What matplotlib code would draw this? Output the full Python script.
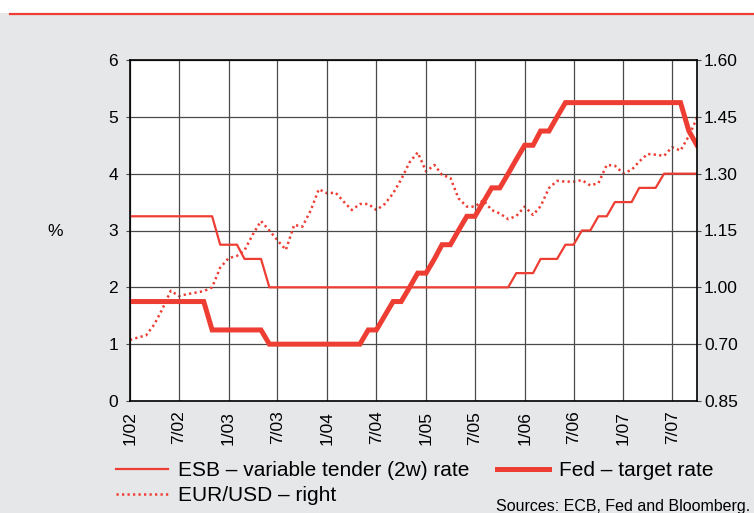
import matplotlib
matplotlib.use("Agg")
import matplotlib.pyplot as plt
from matplotlib.lines import Line2D
from matplotlib.patches import Rectangle
import pandas as pd

plt.rcParams["font.family"] = ["Liberation Sans", "DejaVu Sans"]

# --- data: month-end values, Jan 2002 .. Oct 2007 ---
months = pd.date_range("2002-01-01", "2007-10-01", freq="MS")

ecb_rate = ([3.25] * 11 + [2.75] * 3 + [2.50] * 3 + [2.00] * 30 + [2.25] * 3 +
            [2.50] * 3 + [2.75] * 2 + [3.00] * 2 + [3.25] * 2 + [3.50] * 3 +
            [3.75] * 3 + [4.00] * 5)

fed_rate = ([1.75] * 10 + [1.25] * 7 + [1.00] * 12 + [1.25] * 2 + [1.50] +
            [1.75] * 2 + [2.00] + [2.25] * 2 + [2.50] + [2.75] * 2 + [3.00] +
            [3.25] * 2 + [3.50] + [3.75] * 2 + [4.00] + [4.25] + [4.50] * 2 +
            [4.75] * 2 + [5.00] + [5.25] * 15 + [4.75] + [4.50])

eur_usd = [
    0.861, 0.868, 0.873, 0.902, 0.943, 0.991, 0.977, 0.982, 0.986, 0.990, 1.000, 1.052,
    1.077, 1.083, 1.098, 1.140, 1.175, 1.150, 1.124, 1.099, 1.165, 1.160, 1.203, 1.259,
    1.248, 1.250, 1.227, 1.204, 1.220, 1.220, 1.204, 1.220, 1.248, 1.285, 1.330, 1.356,
    1.306, 1.323, 1.297, 1.289, 1.235, 1.213, 1.213, 1.230, 1.204, 1.195, 1.180, 1.188,
    1.213, 1.191, 1.214, 1.262, 1.281, 1.279, 1.279, 1.283, 1.269, 1.275, 1.323, 1.321,
    1.301, 1.310, 1.332, 1.352, 1.350, 1.347, 1.370, 1.361, 1.400, 1.447,
]

x_ticks = pd.date_range("2002-01-01", "2007-07-01", freq="6MS")
x_labels = ["1/02", "7/02", "1/03", "7/03", "1/04", "7/04",
            "1/05", "7/05", "1/06", "7/06", "1/07", "7/07"]
left_ticks = [0, 1, 2, 3, 4, 5, 6]
right_ticks = [0.70, 0.85, 1.00, 1.15, 1.30, 1.45, 1.60]
# labels as printed in the source (bottom two swapped)
right_labels = ["0.85", "0.70", "1.00", "1.15", "1.30", "1.45", "1.60"]

RED = "#ee3d32"
GRID = "#4a4a4a"
BG = "#e6e7e8"

fig = plt.figure(figsize=(7.54, 5.13), dpi=100, facecolor=BG)
W, H = 754, 513

# white strip + red rule at top
fig.patches.append(Rectangle((0, 1 - 13 / H), 1, 13 / H, transform=fig.transFigure,
                             facecolor="white", edgecolor="none", zorder=0))
fig.lines.append(Line2D([10 / W, 1], [1 - 14 / H, 1 - 14 / H], transform=fig.transFigure,
                        color=RED, lw=1.6))

ax = fig.add_axes([130 / W, 112 / H, 567 / W, 341 / H])
ax2 = ax.twinx()
ax.set_zorder(2)
ax2.set_zorder(1)
ax.patch.set_visible(False)
ax2.patch.set_visible(True)
ax2.patch.set_facecolor("white")

# right axis: EUR/USD, below the rate lines
ax2.plot(months, eur_usd, color=RED, lw=1.8, linestyle=(0, (0.9, 1.3)),
         label="EUR/USD – right")
ax2.set_ylim(0.70, 1.60)
ax2.set_yticks(right_ticks)
ax2.set_yticklabels(right_labels)
ax2.grid(True, axis="y", color=GRID, lw=0.9)
for s in ax2.spines.values():
    s.set_visible(False)
ax2.tick_params(axis="y", length=3, color=GRID, pad=2, labelsize=12.5)

# left axis: policy rates
ax.plot(months, ecb_rate, color=RED, lw=1.6, label="ESB – variable tender (2w) rate")
ax.plot(months, fed_rate, color=RED, lw=3.6, solid_joinstyle="miter",
        label="Fed – target rate")
ax.set_ylim(0, 6)
ax.set_yticks(left_ticks)
ax.set_xlim(months[0], months[-1])
ax.set_xticks(x_ticks)
ax.set_xticklabels(x_labels, rotation=90)
ax.grid(True, axis="x", color=GRID, lw=0.9)
ax.tick_params(axis="y", length=3, color=GRID, pad=5.5, labelsize=12.5)
ax.tick_params(axis="x", length=0, pad=7, labelsize=12.5)
for s in ax.spines.values():
    s.set_color("black")
    s.set_linewidth(1.2)

fig.text(55 / W, 1 - 232 / H, "%", ha="center", va="center", fontsize=12.5)

h1, l1 = ax.get_legend_handles_labels()
h2, l2 = ax2.get_legend_handles_labels()
handles = [h1[0], h2[0], h1[1]]
labels = [l1[0], l2[0], l1[1]]
fig.legend(handles, labels, ncol=2, loc="upper left",
           bbox_to_anchor=(116 / W, 1 - 461 / H), frameon=False,
           fontsize=15, handlelength=2.5, handletextpad=0.5,
           columnspacing=1.3, labelspacing=0.28, borderpad=0, borderaxespad=0)

fig.text(750 / W, 1 - 506 / H, "Sources: ECB, Fed and Bloomberg.",
         ha="right", va="center", fontsize=11.5)

fig.savefig("out.png", dpi=100, facecolor=BG)
